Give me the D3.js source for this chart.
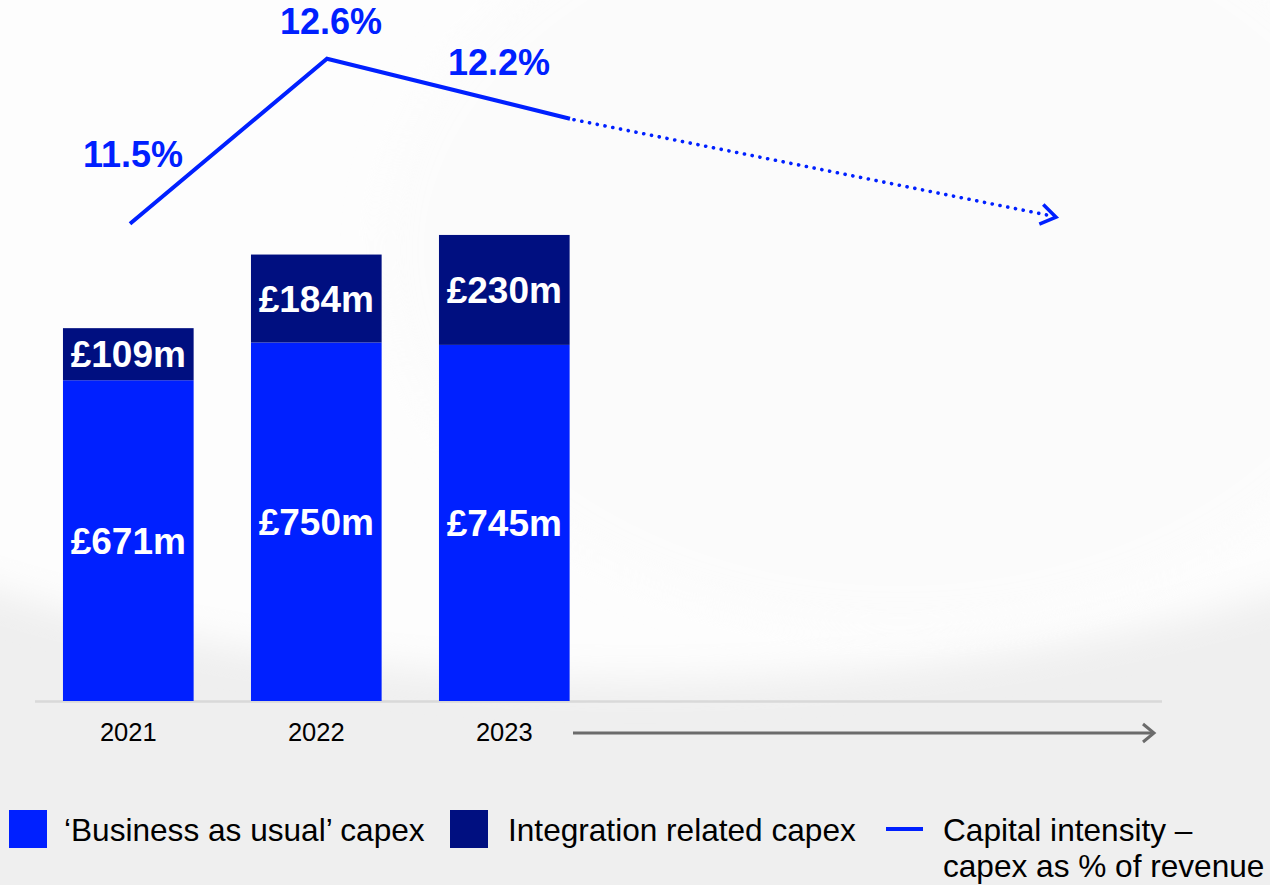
<!DOCTYPE html>
<html>
<head>
<meta charset="utf-8">
<script src="https://cdn.jsdelivr.net/npm/d3@7"></script>
<style>
  html, body { margin: 0; padding: 0; background: #f0f0f0; }
  svg { display: block; font-family: "Liberation Sans", Arial, sans-serif; }
</style>
</head>
<body>
<svg id="chart" width="1270" height="885"></svg>
<script>
// ---- data ----
const years = ["2021", "2022", "2023"];
const bauCapex = [671, 750, 745];          // £m, 'Business as usual' capex
const integrationCapex = [109, 184, 230];  // £m, Integration related capex
const capitalIntensity = [11.5, 12.6, 12.2]; // % of revenue
const intensityLabels = ["11.5%", "12.6%", "12.2%"];
const outlook = { year: 2025, value: 11.55 }; // dotted trend arrow end (schematic)
const legendLabels = ["\u2018Business as usual\u2019 capex", "Integration related capex", "Capital intensity \u2013", "capex as % of revenue"];

// ---- styles ----
const BLUE = "#0020ff";
const NAVY = "#000f80";

const svg = d3.select("#chart");

// background
const defs = svg.append("defs");
const blur = defs.append("filter").attr("id", "soft").attr("x", "-20%").attr("y", "-20%").attr("width", "140%").attr("height", "140%");
blur.append("feGaussianBlur").attr("stdDeviation", 18);
svg.append("rect").attr("width", 1270).attr("height", 885).attr("fill", "#efefef");
svg.append("ellipse").attr("cx", 640).attr("cy", 190).attr("rx", 1120).attr("ry", 490)
  .attr("fill", "#fdfdfd").attr("filter", "url(#soft)");
svg.append("ellipse").attr("cx", 900).attr("cy", 250).attr("rx", 520).attr("ry", 380)
  .attr("fill", "#fbfbfb").attr("opacity", 0.6).attr("filter", "url(#soft)");

// scales
const x = d3.scaleBand().domain(years).range([34.3, 598.3]).paddingInner(0.305).paddingOuter(0.1525);
const y = d3.scaleLinear().domain([0, 1000]).range([701, 223]);
const lineX = d3.scaleLinear().domain([2021, 2022, 2023]).range([130, 327, 570]);
const lineY = d3.scaleLinear().domain([12.1, 13.1]).range([133.7, -16.3]);

// baseline
svg.append("line").attr("x1", 35).attr("x2", 1162).attr("y1", 701.5).attr("y2", 701.5)
  .attr("stroke", "#d9d9d9").attr("stroke-width", 2.5);

// bars
const rows = years.map((yr, i) => ({ yr, bau: bauCapex[i], integ: integrationCapex[i] }));
const g = svg.append("g");
g.selectAll("rect.bau").data(rows).join("rect").attr("class", "bau")
  .attr("x", d => x(d.yr)).attr("width", x.bandwidth())
  .attr("y", d => y(d.bau)).attr("height", d => y(0) - y(d.bau)).attr("fill", BLUE);
g.selectAll("rect.integ").data(rows).join("rect").attr("class", "integ")
  .attr("x", d => x(d.yr)).attr("width", x.bandwidth())
  .attr("y", d => y(d.bau + d.integ)).attr("height", d => y(d.bau) - y(d.bau + d.integ)).attr("fill", NAVY);

// bar labels
g.selectAll("text.bauL").data(rows).join("text").attr("class", "bauL")
  .attr("x", d => x(d.yr) + x.bandwidth() / 2)
  .attr("y", d => (y(0) + y(d.bau)) / 2 + 13)
  .attr("text-anchor", "middle").attr("fill", "#fff").attr("font-weight", "bold").attr("font-size", 37)
  .text(d => "£" + d.bau + "m");
g.selectAll("text.integL").data(rows).join("text").attr("class", "integL")
  .attr("x", d => x(d.yr) + x.bandwidth() / 2)
  .attr("y", d => (y(d.bau) + y(d.bau + d.integ)) / 2 + 13)
  .attr("text-anchor", "middle").attr("fill", "#fff").attr("font-weight", "bold").attr("font-size", 37)
  .text(d => "£" + d.integ + "m");

// x axis labels
const xAxis = d3.axisBottom(x).tickSize(0).tickPadding(0);
const ax = svg.append("g").attr("transform", "translate(0,723)").call(xAxis);
ax.select(".domain").remove();
ax.selectAll("text").attr("font-size", 25.5).attr("fill", "#000")
  .attr("font-family", "'Liberation Sans', Arial, sans-serif").attr("dy", "0.71em");

// grey timeline arrow
svg.append("line").attr("x1", 573).attr("x2", 1154).attr("y1", 733).attr("y2", 733)
  .attr("stroke", "#6b6b6b").attr("stroke-width", 3);
svg.append("path").attr("d", "M1143,724 L1154,733 L1143,742").attr("fill", "none")
  .attr("stroke", "#6b6b6b").attr("stroke-width", 3);

// capital intensity line
const pts = capitalIntensity.map((v, i) => ({ yr: +years[i], v }));
const line = d3.line().x(d => lineX(d.yr)).y(d => lineY(d.v));
svg.append("path").datum(pts).attr("d", line).attr("fill", "none")
  .attr("stroke", BLUE).attr("stroke-width", 4).attr("stroke-linejoin", "miter");

// dotted outlook
const last = pts[pts.length - 1];
const ex = lineX(outlook.year), ey = lineY(outlook.value);
const sx = lineX(last.yr), sy = lineY(last.v);
svg.append("line").attr("x1", sx + 4).attr("y1", sy + 1).attr("x2", ex - 8).attr("y2", ey - 1)
  .attr("stroke", BLUE).attr("stroke-width", 3.6).attr("stroke-linecap", "round")
  .attr("stroke-dasharray", "0.1 7.8");
const ang = Math.atan2(ey - sy, ex - sx) * 180 / Math.PI;
svg.append("path").attr("d", "M-15,-10 L0,0 L-15,10").attr("fill", "none")
  .attr("stroke", BLUE).attr("stroke-width", 3.5)
  .attr("transform", `translate(${ex},${ey + 1}) rotate(${ang})`);

// intensity labels
const labOff = [[3, -57], [4, -25], [-71, -44]];
svg.selectAll("text.pct").data(pts).join("text").attr("class", "pct")
  .attr("x", (d, i) => lineX(d.yr) + labOff[i][0])
  .attr("y", (d, i) => lineY(d.v) + labOff[i][1])
  .attr("text-anchor", "middle").attr("fill", BLUE).attr("font-weight", "bold").attr("font-size", 36)
  .text((d, i) => intensityLabels[i]);

// legend
const lg = svg.append("g");
const LFS = 31.6;
lg.append("rect").attr("x", 9).attr("y", 810).attr("width", 38).attr("height", 38).attr("fill", BLUE);
lg.append("text").attr("x", 64).attr("y", 841).attr("font-size", LFS).attr("fill", "#000").text(legendLabels[0]);
lg.append("rect").attr("x", 450).attr("y", 810).attr("width", 38).attr("height", 38).attr("fill", NAVY);
lg.append("text").attr("x", 508).attr("y", 841).attr("font-size", LFS).attr("fill", "#000").text(legendLabels[1]);
lg.append("line").attr("x1", 886).attr("x2", 923).attr("y1", 829).attr("y2", 829).attr("stroke", BLUE).attr("stroke-width", 4);
lg.append("text").attr("x", 943).attr("y", 841).attr("font-size", LFS).attr("fill", "#000").text(legendLabels[2]);
lg.append("text").attr("x", 943).attr("y", 877).attr("font-size", LFS).attr("fill", "#000").text(legendLabels[3]);
</script>
</body>
</html>
